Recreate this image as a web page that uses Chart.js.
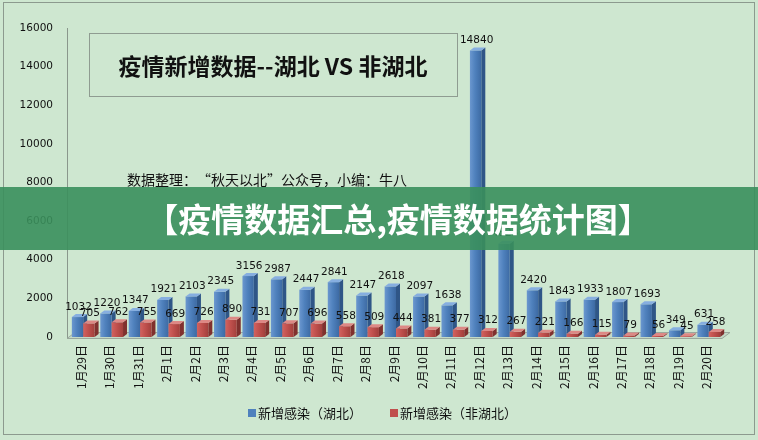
<!DOCTYPE html>
<html>
<head>
<meta charset="utf-8">
<script src="https://cdn.jsdelivr.net/npm/chart.js@4.4.1/dist/chart.umd.min.js"></script>
<style>
  html, body { margin: 0; padding: 0; background: #cee7d0; }
  #myChart { display: block; }
</style>
</head>
<body>
<canvas id="myChart" width="758" height="440"></canvas>
<script>
// data
const dates = ["1月29日", "1月30日", "1月31日", "2月1日", "2月2日", "2月3日", "2月4日", "2月5日",
  "2月6日", "2月7日", "2月8日", "2月9日", "2月10日", "2月11日", "2月12日", "2月13日", "2月14日",
  "2月15日", "2月16日", "2月17日", "2月18日", "2月19日", "2月20日"];
const hubei = [1032, 1220, 1347, 1921, 2103, 2345, 3156, 2987, 2447, 2841, 2147, 2618, 2097, 1638,
  14840, 4823, 2420, 1843, 1933, 1807, 1693, 349, 631];
const nonHubei = [705, 762, 755, 669, 726, 890, 731, 707, 696, 558, 509, 444, 381, 377,
  312, 267, 221, 166, 115, 79, 56, 45, 258];
const seriesNames = ["新增感染（湖北）", "新增感染（非湖北）"];
const yMax = 16000;
const yStep = 2000;

const chartTitle = "疫情新增数据--湖北 VS 非湖北";
const subTitle = "数据整理：“秋天以北”公众号，小编：牛八";
const bannerText = "【疫情数据汇总,疫情数据统计图】";

const bg = "#cee7d0";
const faces = [
  { light: "#6b97cf", front: "#4f81bd", dark: "#3d6aa3", side: "#2f5687", top: "#86aee0" },
  { light: "#d2625f", front: "#c0504d", dark: "#a23f3c", side: "#80302e", top: "#dd8885" }
];

function drawColumn(ctx, x, y, w, base, c) {
  const dx = 4, dy = 3;
  ctx.fillStyle = c.side;
  ctx.beginPath();
  ctx.moveTo(x + w, y);
  ctx.lineTo(x + w + dx, y - dy);
  ctx.lineTo(x + w + dx, base - dy);
  ctx.lineTo(x + w, base);
  ctx.closePath();
  ctx.fill();

  const g = ctx.createLinearGradient(x, 0, x + w, 0);
  g.addColorStop(0, c.light);
  g.addColorStop(0.45, c.front);
  g.addColorStop(1, c.dark);
  ctx.fillStyle = g;
  ctx.fillRect(x, y, w, base - y);

  ctx.fillStyle = c.top;
  ctx.beginPath();
  ctx.moveTo(x, y);
  ctx.lineTo(x + dx, y - dy);
  ctx.lineTo(x + w + dx, y - dy);
  ctx.lineTo(x + w, y);
  ctx.closePath();
  ctx.fill();
}

const decor = {
  id: "decor",
  beforeDraw(chart) {
    const ctx = chart.ctx;
    ctx.save();
    ctx.fillStyle = bg;
    ctx.fillRect(0, 0, chart.width, chart.height);
    ctx.strokeStyle = "#8c9a8e";
    ctx.lineWidth = 1;
    ctx.strokeRect(3.5, 2.5, chart.width - 7, chart.height - 8);
    ctx.restore();
  },
  beforeDatasetsDraw(chart) {
    const ctx = chart.ctx;
    const area = chart.chartArea;
    const shift = 2;
    ctx.save();
    // floor
    ctx.fillStyle = "#c3d9c6";
    ctx.strokeStyle = "#9aa89c";
    ctx.lineWidth = 1;
    ctx.beginPath();
    ctx.moveTo(area.left, area.bottom + 1.5);
    ctx.lineTo(area.right + 1, area.bottom + 1.5);
    ctx.lineTo(area.right + 9, area.bottom - 4.5);
    ctx.lineTo(area.left + 8, area.bottom - 4.5);
    ctx.closePath();
    ctx.fill();
    ctx.stroke();

    for (let i = 0; i < chart.data.labels.length; i++) {
      chart.data.datasets.forEach((ds, d) => {
        const el = chart.getDatasetMeta(d).data[i];
        drawColumn(ctx, el.x - el.width / 2 + shift, el.y, el.width, el.base, faces[d]);
      });
    }
    ctx.restore();
    return false;
  },
  afterDraw(chart) {
    const ctx = chart.ctx;
    ctx.save();
    // value labels
    ctx.fillStyle = "#111";
    ctx.font = "10.5px 'DejaVu Sans'";
    ctx.textAlign = "center";
    ctx.textBaseline = "bottom";
    chart.data.datasets.forEach((ds, d) => {
      chart.getDatasetMeta(d).data.forEach((el, i) => {
        ctx.fillText(String(ds.data[i]), el.x + 3, el.y - 5);
      });
    });

    // legend
    ctx.font = "13px 'Noto Sans CJK SC'";
    ctx.textAlign = "left";
    ctx.textBaseline = "middle";
    let lx = 248;
    const ly = 413;
    chart.data.datasets.forEach((ds) => {
      ctx.fillStyle = ds.backgroundColor;
      ctx.fillRect(lx, ly - 4, 8, 8);
      ctx.fillStyle = "#111";
      ctx.fillText(ds.label, lx + 10, ly);
      lx += 10 + ctx.measureText(ds.label).width + 28;
    });

    // title box
    ctx.strokeStyle = "#8f9c91";
    ctx.lineWidth = 1;
    ctx.strokeRect(89.5, 33.5, 368, 63);
    ctx.fillStyle = "#111";
    ctx.font = "bold 23px 'Noto Sans CJK SC'";
    ctx.textAlign = "center";
    ctx.fillText(chartTitle, 273, 66);

    ctx.font = "14px 'Noto Sans CJK SC'";
    ctx.textAlign = "left";
    ctx.fillText(subTitle, 127, 180);

    // banner
    ctx.fillStyle = "rgba(58, 143, 92, 0.9)";
    ctx.fillRect(0, 187, chart.width, 63);
    ctx.fillStyle = "#ffffff";
    ctx.font = "bold 33px 'Noto Sans CJK SC'";
    ctx.textAlign = "center";
    ctx.fillText(bannerText, 398, 219);
    ctx.restore();
  }
};

const ctx = document.getElementById("myChart").getContext("2d");
const myChart = new Chart(ctx, {
  type: "bar",
  data: {
    labels: dates,
    datasets: [
      { label: seriesNames[0], data: hubei, backgroundColor: faces[0].front },
      { label: seriesNames[1], data: nonHubei, backgroundColor: faces[1].front }
    ]
  },
  options: {
    responsive: false,
    animation: false,
    layout: { padding: { top: 28, right: 37, bottom: 0, left: 0 } },
    datasets: {
      bar: { categoryPercentage: 0.8, barPercentage: 1.0 }
    },
    scales: {
      x: {
        grid: { display: false, drawTicks: false },
        border: { display: false },
        ticks: {
          color: "#111",
          font: { family: "'Noto Sans CJK SC'", size: 12 },
          minRotation: 90,
          maxRotation: 90,
          padding: 8,
          autoSkip: false
        },
        afterFit: (s) => { s.height = 103; }
      },
      y: {
        min: 0,
        max: yMax,
        grid: { display: false, drawTicks: false },
        border: { display: true, color: "#8a978c" },
        ticks: {
          stepSize: yStep,
          color: "#111",
          padding: 14,
          font: { family: "'DejaVu Sans'", size: 10.5 },
          callback: (v) => String(v)
        },
        afterFit: (s) => { s.width = 67; }
      }
    },
    plugins: {
      legend: { display: false },
      tooltip: { enabled: false }
    }
  },
  plugins: [decor]
});
</script>
</body>
</html>
